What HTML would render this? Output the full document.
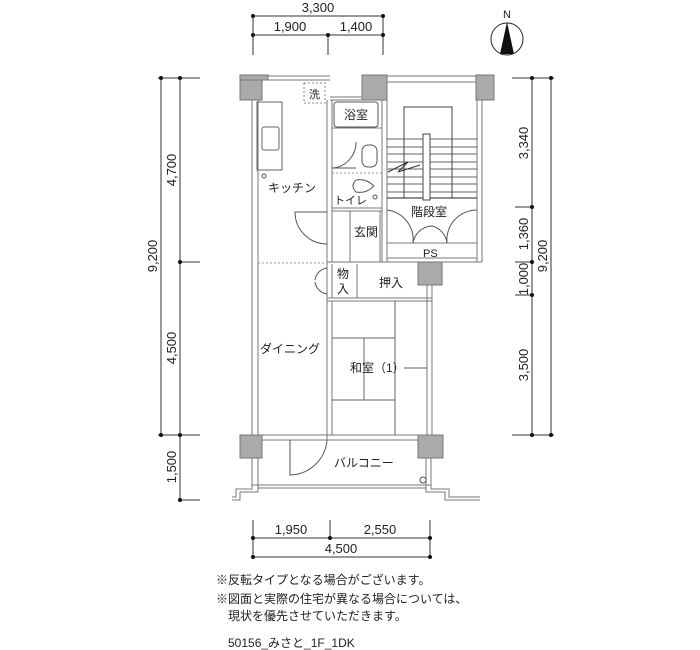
<!DOCTYPE html>
<html><head><meta charset="utf-8"><style>
html,body{margin:0;padding:0;background:#fff;}
svg{display:block;}
text{font-family:"Liberation Sans","Noto Sans CJK JP",sans-serif;fill:#222;}
</style></head><body>
<svg width="700" height="650" viewBox="0 0 700 650" xmlns="http://www.w3.org/2000/svg">
<g stroke="#333" stroke-width="1" fill="none">
<line x1="253" y1="16" x2="383" y2="16"/><line x1="253" y1="35" x2="383" y2="35"/>
<line x1="253" y1="16" x2="253" y2="55"/><line x1="328" y1="35" x2="328" y2="55"/><line x1="383" y1="16" x2="383" y2="55"/>
<line x1="161" y1="78" x2="161" y2="435"/><line x1="180" y1="78" x2="180" y2="500"/>
<line x1="158" y1="78" x2="200" y2="78"/><line x1="180" y1="262" x2="200" y2="262"/><line x1="158" y1="435" x2="200" y2="435"/><line x1="180" y1="500" x2="200" y2="500"/>
<line x1="532" y1="78" x2="532" y2="435"/><line x1="551" y1="78" x2="551" y2="435"/>
<line x1="512" y1="78" x2="554" y2="78"/><line x1="512" y1="435" x2="554" y2="435"/>
<line x1="515" y1="207" x2="532" y2="207"/><line x1="515" y1="262" x2="532" y2="262"/><line x1="515" y1="295" x2="532" y2="295"/>
<line x1="253" y1="538" x2="430" y2="538"/><line x1="253" y1="557" x2="430" y2="557"/>
<line x1="253" y1="520" x2="253" y2="557"/><line x1="330" y1="520" x2="330" y2="538"/><line x1="430" y1="520" x2="430" y2="557"/>
</g>
<g fill="#111">
<circle cx="253" cy="16" r="2"/><circle cx="383" cy="16" r="2"/><circle cx="253" cy="35" r="2"/><circle cx="328" cy="35" r="2"/><circle cx="383" cy="35" r="2"/>
<circle cx="161" cy="78" r="2"/><circle cx="180" cy="78" r="2"/><circle cx="180" cy="262" r="2"/><circle cx="161" cy="435" r="2"/><circle cx="180" cy="435" r="2"/><circle cx="180" cy="500" r="2"/>
<circle cx="532" cy="78" r="2"/><circle cx="551" cy="78" r="2"/><circle cx="532" cy="207" r="2"/><circle cx="532" cy="262" r="2"/><circle cx="532" cy="295" r="2"/><circle cx="532" cy="435" r="2"/><circle cx="551" cy="435" r="2"/>
<circle cx="253" cy="538" r="2"/><circle cx="330" cy="538" r="2"/><circle cx="430" cy="538" r="2"/><circle cx="253" cy="557" r="2"/><circle cx="430" cy="557" r="2"/>
</g>
<g font-size="13" text-anchor="middle">
<text x="318" y="12">3,300</text><text x="290" y="31">1,900</text><text x="356" y="31">1,400</text>
<text x="291" y="534">1,950</text><text x="380" y="534">2,550</text><text x="341" y="553">4,500</text>
<text transform="translate(157,256) rotate(-90)">9,200</text>
<text transform="translate(176,170) rotate(-90)">4,700</text>
<text transform="translate(176,348) rotate(-90)">4,500</text>
<text transform="translate(176,467) rotate(-90)">1,500</text>
<text transform="translate(528,143) rotate(-90)">3,340</text>
<text transform="translate(528,234) rotate(-90)">1,360</text>
<text transform="translate(528,279) rotate(-90)">1,000</text>
<text transform="translate(528,365) rotate(-90)">3,500</text>
<text transform="translate(547,256) rotate(-90)">9,200</text>
</g>
<circle cx="507" cy="39" r="16" fill="none" stroke="#222"/>
<polygon points="507,22 500,54 514,54" fill="#111"/>
<text x="507" y="18" font-size="11" text-anchor="middle">N</text>
<g stroke="#777" stroke-width="1" fill="none">
<line x1="252" y1="100" x2="252" y2="435"/><line x1="258" y1="100" x2="258" y2="435"/>
<line x1="262" y1="76" x2="330" y2="76"/><line x1="268" y1="80" x2="330" y2="80"/>
<line x1="387" y1="76" x2="476" y2="76"/><line x1="387" y1="82" x2="476" y2="82"/>
<line x1="477" y1="100" x2="477" y2="262"/><line x1="482" y1="100" x2="482" y2="262"/>
<line x1="327" y1="100" x2="327" y2="440"/><line x1="332" y1="100" x2="332" y2="262"/>
<line x1="382" y1="100" x2="382" y2="262"/><line x1="387" y1="100" x2="387" y2="262"/>
<line x1="330" y1="100" x2="362" y2="100"/><line x1="330" y1="97" x2="362" y2="97"/>
<line x1="332" y1="128" x2="382" y2="128"/><line x1="332" y1="208" x2="382" y2="208"/><line x1="332" y1="211" x2="382" y2="211"/>
<line x1="350" y1="211" x2="350" y2="262"/><line x1="380" y1="211" x2="380" y2="262"/>
<line x1="387" y1="243" x2="477" y2="243"/><line x1="387" y1="258" x2="477" y2="258"/><line x1="327" y1="262" x2="482" y2="262"/>
<line x1="332" y1="264" x2="332" y2="298"/><line x1="357" y1="264" x2="357" y2="298"/><line x1="327" y1="298" x2="432" y2="298"/><line x1="327" y1="301" x2="432" y2="301"/>
<line x1="332" y1="301" x2="332" y2="435"/>
<line x1="427" y1="285" x2="427" y2="435"/><line x1="432" y1="285" x2="432" y2="435"/>
<line x1="262" y1="435" x2="418" y2="435"/><line x1="262" y1="440" x2="418" y2="440"/>
<line x1="252" y1="458" x2="252" y2="488"/><line x1="258" y1="458" x2="258" y2="488"/>
<line x1="426" y1="458" x2="426" y2="488"/><line x1="431" y1="458" x2="431" y2="488"/>
<polyline points="232,500 240,500 240,492 258,492 258,488 426,488 426,492 445,492 445,500 480,500"/>
<polyline points="232,497 236,497 236,489 252,489 252,485 431,485 431,489 449,489 449,497 480,497"/>
<g stroke="#666">
<line x1="387" y1="139" x2="477" y2="139"/><line x1="387" y1="147" x2="477" y2="147"/><line x1="387" y1="154" x2="477" y2="154"/><line x1="387" y1="162" x2="477" y2="162"/><line x1="387" y1="169" x2="477" y2="169"/><line x1="387" y1="177" x2="477" y2="177"/><line x1="387" y1="184" x2="477" y2="184"/><line x1="387" y1="192" x2="477" y2="192"/>
</g>
<line x1="387" y1="198" x2="477" y2="198" stroke="#222"/>
<polyline points="404,198 404,107 452,107 452,198" stroke="#444"/>
<rect x="423" y="134" width="7" height="66" fill="#fff" stroke="#444"/>
<polyline points="388,172 408,162 398,172 420,165" stroke="#333"/>
<path d="M327,212 L295,212 A32,32 0 0 0 327,244" stroke="#555"/>
<path d="M356,142 A25,26 0 0 1 332,168 M332,168 L356,168" stroke="#555"/>
<path d="M387,210 A30,30 0 0 1 413,243 M413,243 A20,20 0 0 1 432,226 M477,210 A30,30 0 0 0 447,243 M447,243 A20,20 0 0 0 432,226" stroke="#555"/>
<path d="M290,440 L290,475 A38,38 0 0 0 327,440" stroke="#555"/>
<path d="M327,268 A14,14 0 0 0 315,280 M327,294 A14,14 0 0 1 315,282" stroke="#555"/>
<rect x="257" y="102" width="25" height="68" stroke="#666"/>
<rect x="262" y="127" width="17" height="23" rx="2" stroke="#666"/>
<circle cx="264" cy="176" r="2" stroke="#555"/>
<rect x="304" y="83" width="21" height="20" stroke="#888" stroke-dasharray="2,2"/>
<line x1="258" y1="263" x2="327" y2="263" stroke="#999" stroke-dasharray="2,2"/>
<line x1="332" y1="173" x2="382" y2="173" stroke="#999" stroke-dasharray="2,2"/>
<rect x="334" y="102" width="44" height="25" rx="3" stroke="#555"/>
<rect x="362" y="145" width="15" height="22" rx="6" stroke="#555"/>
<path d="M356,180 q-6,6 0,12 q10,2 18,-6 q-8,-8 -18,-6" stroke="#555"/>
<circle cx="375" cy="197" r="2" stroke="#555"/>
<circle cx="423" cy="480" r="3" stroke="#555"/>
<g stroke="#666">
<line x1="332" y1="338" x2="395" y2="338"/><line x1="332" y1="400" x2="395" y2="400"/><line x1="364" y1="338" x2="364" y2="400"/>
<line x1="395" y1="301" x2="395" y2="435"/><line x1="404" y1="368" x2="427" y2="368"/>
</g>
</g>
<g fill="#aaa" stroke="#777">
<rect x="240" y="75" width="22" height="25"/><rect x="240" y="75" width="28" height="5"/>
<rect x="362" y="75" width="25" height="25"/>
<rect x="476" y="75" width="18" height="25"/>
<rect x="418" y="262" width="24" height="23"/>
<rect x="240" y="435" width="22" height="23"/><rect x="418" y="435" width="25" height="23"/>
</g>
<g font-size="12">
<text x="309" y="98" font-size="11">洗</text>
<text x="344" y="119">浴室</text>
<text x="268" y="192">キッチン</text>
<text x="334" y="204" font-size="11">トイレ</text>
<text x="354" y="236">玄関</text>
<text x="411" y="216">階段室</text>
<text x="423" y="257" font-size="11">PS</text>
<text x="337" y="278">物</text><text x="337" y="293">入</text>
<text x="379" y="287">押入</text>
<text x="260" y="353">ダイニング</text>
<text x="350" y="372">和室（1）</text>
<text x="334" y="467">バルコニー</text>
<text x="216" y="584">※反転タイプとなる場合がございます。</text>
<text x="216" y="603">※図面と実際の住宅が異なる場合については、</text>
<text x="228" y="620">現状を優先させていただきます。</text>
<text x="228" y="647">50156_みさと_1F_1DK</text>
</g>
</svg>
</body></html>
